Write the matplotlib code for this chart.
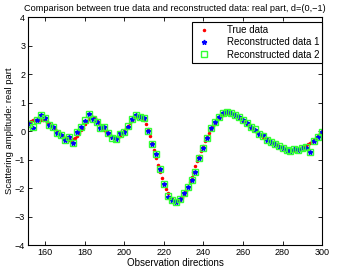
import numpy as np
import matplotlib
matplotlib.use("Agg")
import matplotlib.pyplot as plt

plt.rcParams['font.family'] = ['Liberation Sans', 'DejaVu Sans']

# true data, one value per degree from 151 to 300
true_x = list(range(151, 301))
true_y = [
    0.30, 0.33, 0.35, 0.37, 0.38, 0.39, 0.40, 0.40, 0.39, 0.37,
    0.33, 0.28, 0.22, 0.15, 0.08, 0.01, -0.06, -0.13, -0.19, -0.24,
    -0.28, -0.30, -0.30, -0.28, -0.23, -0.16, -0.08, 0.02, 0.12, 0.24,
    0.34, 0.43, 0.49, 0.51, 0.47, 0.40, 0.30, 0.20, 0.12, 0.05,
    -0.04, -0.12, -0.18, -0.22, -0.24, -0.24, -0.21, -0.16, -0.09, 0.00,
    0.09, 0.19, 0.29, 0.38, 0.45, 0.50, 0.52, 0.51, 0.46, 0.37,
    0.24, 0.06, -0.16, -0.42, -0.68, -0.94, -1.19, -1.43, -1.65, -1.85,
    -2.03, -2.18, -2.30, -2.39, -2.44, -2.46, -2.45, -2.41, -2.34, -2.24,
    -2.11, -1.96, -1.80, -1.62, -1.43, -1.24, -1.05, -0.87, -0.69, -0.52,
    -0.36, -0.21, -0.07, 0.06, 0.18, 0.29, 0.38, 0.46, 0.53, 0.58,
    0.62, 0.64, 0.64, 0.63, 0.60, 0.56, 0.52, 0.47, 0.42, 0.36,
    0.30, 0.24, 0.18, 0.12, 0.06, 0.01, -0.05, -0.10, -0.15, -0.20,
    -0.25, -0.29, -0.33, -0.37, -0.41, -0.44, -0.47, -0.52, -0.55, -0.58,
    -0.60, -0.62, -0.64, -0.65, -0.65, -0.65, -0.64, -0.63, -0.61, -0.58,
    -0.55, -0.51, -0.47, -0.42, -0.36, -0.30, -0.23, -0.16, -0.08, 0.00,
]

# reconstructions, every second degree
rec_x = list(range(152, 301, 2))
rec1_y = [
    0.25, 0.12, 0.38, 0.58, 0.45, 0.21, 0.15, -0.08, -0.14, -0.30,
    -0.20, -0.43, -0.02, 0.13, 0.36, 0.60, 0.41, 0.30, 0.12, 0.15,
    -0.08, -0.22, -0.29, -0.08, -0.05, 0.15, 0.42, 0.56, 0.50, 0.46,
    0.00, -0.46, -0.80, -1.33, -1.86, -2.30, -2.42, -2.50, -2.40, -2.17,
    -1.96, -1.72, -1.44, -0.95, -0.60, -0.25, 0.10, 0.30, 0.50, 0.63,
    0.67, 0.62, 0.55, 0.50, 0.38, 0.28, 0.15, 0.05, -0.10, -0.15,
    -0.30, -0.38, -0.45, -0.55, -0.60, -0.67, -0.70, -0.62, -0.68, -0.60,
    -0.58, -0.75, -0.35, -0.20, -0.02,
]
rec2_y = [
    0.26, 0.13, 0.37, 0.57, 0.45, 0.22, 0.15, -0.07, -0.15, -0.30,
    -0.21, -0.42, -0.03, 0.13, 0.37, 0.59, 0.41, 0.31, 0.12, 0.14,
    -0.08, -0.23, -0.29, -0.09, -0.05, 0.16, 0.42, 0.55, 0.50, 0.45,
    0.01, -0.45, -0.81, -1.32, -1.85, -2.29, -2.43, -2.49, -2.40, -2.18,
    -1.95, -1.73, -1.43, -0.96, -0.60, -0.26, 0.11, 0.30, 0.49, 0.62,
    0.66, 0.62, 0.56, 0.49, 0.38, 0.29, 0.15, 0.06, -0.10, -0.16,
    -0.30, -0.37, -0.45, -0.54, -0.61, -0.66, -0.70, -0.63, -0.67, -0.60,
    -0.57, -0.74, -0.36, -0.20, -0.03,
]

fig = plt.figure(figsize=(3.46, 2.75), dpi=100)
ax = fig.add_axes([0.081, 0.109, 0.85, 0.829])

ax.plot(true_x, true_y, 'r.', markersize=3, label='True data')
ax.plot(rec_x, rec1_y, '*', color='blue', markersize=3.5, label='Reconstructed data 1')
ax.plot(rec_x, rec2_y, 's', mfc='none', mec=(0.2, 1, 0.2), markersize=5, mew=1.0,
        label='Reconstructed data 2')

ax.set_xlim(151.4, 300)
ax.set_ylim(-4, 4)
ax.set_xticks(range(160, 301, 20))
ax.set_yticks(range(-4, 5))
ax.tick_params(direction='in', top=True, right=True, labelsize=6.5, length=3,
               width=0.6, pad=2)
for s in ax.spines.values():
    s.set_linewidth(0.8)

ax.set_title('Comparison between true data and reconstructed data: real part, d=(0,\u22121)',
             fontsize=6.6, pad=4)
ax.set_xlabel('Observation directions', fontsize=7, labelpad=1)
ax.set_ylabel('Scattering amplitude: real part', fontsize=6.8, labelpad=1)

leg = ax.legend(loc='upper right', bbox_to_anchor=(1.0, 0.978), fontsize=7,
                fancybox=False, edgecolor='black', framealpha=1,
                borderpad=0.3, labelspacing=0.25, handletextpad=1.4,
                handlelength=1.9, borderaxespad=0)
leg.get_frame().set_linewidth(0.8)

fig.savefig('out.png', dpi=100)
